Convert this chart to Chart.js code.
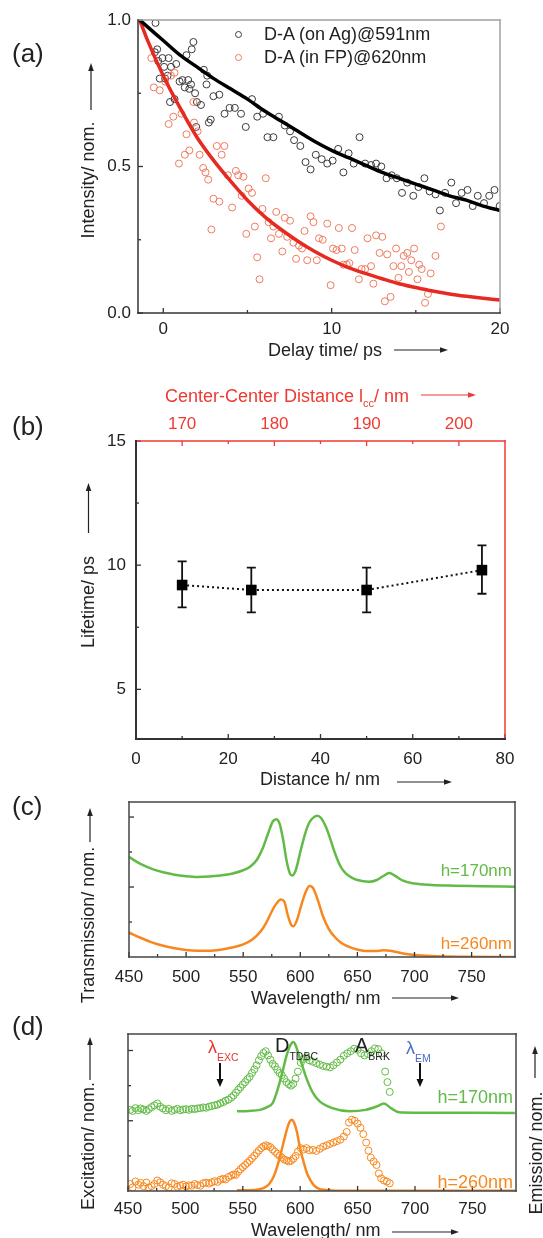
<!DOCTYPE html>
<html lang="en">
<head>
<meta charset="utf-8">
<title>Lifetime figure</title>
<script src="https://cdn.jsdelivr.net/npm/chart.js@4.4.1/dist/chart.umd.min.js"></script>
<style>
  html, body { margin: 0; padding: 0; background: #fff; }
  body { position: relative; width: 543px; height: 1238px; overflow: hidden;
         font-family: 'Liberation Sans', Arial, sans-serif; color: #222; }
  canvas { position: absolute; left: 0; }
  .lbl { position: absolute; white-space: nowrap; font-size: 18px; line-height: 18px; z-index: 2; }
  .rot { transform: translate(-50%, -50%) rotate(-90deg); }
  .panel { position: absolute; left: 12px; font-size: 26px; line-height: 26px; z-index: 2; }
  .sub { font-size: 10.5px; vertical-align: -8px; }
  .dot { position: absolute; width: 7px; height: 7px; border-radius: 50%; box-sizing: border-box;
         border: 1px solid; z-index: 2; }
  #ov { position: absolute; left: 0; top: 0; z-index: 3; }
</style>
</head>
<body>
<canvas id="chartA" width="543" height="345" style="top:0px;width:543px;height:345px"></canvas>
<canvas id="chartB" width="543" height="430" style="top:360px;width:543px;height:430px"></canvas>
<canvas id="chartC" width="543" height="205" style="top:790px;width:543px;height:205px"></canvas>
<canvas id="chartD" width="543" height="225" style="top:1000px;width:543px;height:225px"></canvas>

<!-- panel (a) -->
<div class="panel" style="top:40px">(a)</div>
<div class="lbl rot" style="left:88px;top:180px">Intensity/ nom.</div>
<div class="lbl" style="left:268px;top:341px">Delay time/ ps</div>
<div class="dot" style="left:234.5px;top:30.5px;border-color:#3a3a3a"></div>
<div class="lbl" style="left:264px;top:25px">D-A (on Ag)@591nm</div>
<div class="dot" style="left:234.5px;top:53.5px;border-color:#ef7a5e"></div>
<div class="lbl" style="left:264px;top:48px">D-A (in FP)@620nm</div>

<!-- panel (b) -->
<div class="panel" style="top:413px">(b)</div>
<div class="lbl" style="left:165px;top:387px;color:#ee3a33">Center-Center Distance l<span style="font-size:11px;vertical-align:-5px">cc</span>/ nm</div>
<div class="lbl rot" style="left:88px;top:602px">Lifetime/ ps</div>
<div class="lbl" style="left:260px;top:770px">Distance h/ nm</div>

<!-- panel (c) -->
<div class="panel" style="top:793px">(c)</div>
<div class="lbl rot" style="left:88px;top:925px">Transmission/ nom.</div>
<div class="lbl" style="left:251px;top:989px">Wavelength/ nm</div>
<div class="lbl" style="right:31px;top:862px;color:#62bb46;font-size:17px">h=170nm</div>
<div class="lbl" style="right:31px;top:935px;color:#f7881f;font-size:17px">h=260nm</div>

<!-- panel (d) -->
<div class="panel" style="top:1013px">(d)</div>
<div class="lbl rot" style="left:88px;top:1146px">Excitation/ nom.</div>
<div class="lbl rot" style="left:536px;top:1153px">Emission/ nom.</div>
<div class="lbl" style="left:251px;top:1221px">Wavelength/ nm</div>
<div class="lbl" style="right:30px;top:1088px;color:#62bb46">h=170nm</div>
<div class="lbl" style="right:30px;top:1173px;color:#f7881f">h=260nm</div>
<div class="lbl" style="left:208px;top:1038px;color:#e8352e">&lambda;<span class="sub">EXC</span></div>
<div class="lbl" style="left:275px;top:1035px;font-size:20px;line-height:20px">D<span class="sub">TDBC</span></div>
<div class="lbl" style="left:355px;top:1035px;font-size:20px;line-height:20px">A<span class="sub">BRK</span></div>
<div class="lbl" style="left:406px;top:1039px;color:#4b6cc1">&lambda;<span class="sub">EM</span></div>

<svg id="ov" width="543" height="1238"></svg>

<script>
'use strict';

// ── Panel (a): decay traces (delay time in ps, normalised intensity) ──
const blackT = [-0.46, -0.36, -0.50, -0.05, -0.30, 0.32, 0.05, 0.46, 0.26, -0.21, 0.11, 0.40, 0.67, 0.97, 0.77,
  1.38, 1.79, 1.69, 1.14, 1.48, 1.28, 1.55, 1.65, 1.89, 2.00, 2.24, 2.41, 2.57, 2.61, 1.96, 2.71, 2.82, 2.98,
  3.33, 3.64, 3.94, 4.25, 4.62, 4.90, 5.27, 5.58, 5.93, 6.19, 6.54, 6.87, 7.22, 7.53, 7.77, 8.14, 8.45, 8.75,
  9.06, 9.41, 9.74, 10.06, 10.39, 10.70, 11.01, 11.31, 11.66, 11.99, 12.34, 12.64, 12.95, 13.26, 13.57, 13.87,
  14.18, 14.49, 14.85, 15.16, 15.51, 15.82, 16.17, 16.43, 16.74, 17.11, 17.39, 17.72, 18.07, 18.38, 18.68,
  19.05, 19.36, 19.67, 19.98];
const blackV = [0.99, 0.90, 0.89, 0.87, 0.86, 0.87, 0.84, 0.84, 0.81, 0.80, 0.80, 0.72, 0.73, 0.79, 0.85,
  0.88, 0.925, 0.90, 0.795, 0.795, 0.77, 0.765, 0.78, 0.75, 0.72, 0.71, 0.83, 0.78, 0.81, 0.635, 0.65, 0.66, 0.74,
  0.745, 0.68, 0.70, 0.70, 0.68, 0.635, 0.73, 0.67, 0.68, 0.60, 0.60, 0.67, 0.64, 0.62, 0.59, 0.57, 0.515, 0.49,
  0.54, 0.525, 0.51, 0.52, 0.56, 0.48, 0.545, 0.51, 0.60, 0.51, 0.505, 0.51, 0.50, 0.46, 0.47, 0.46,
  0.41, 0.445, 0.40, 0.43, 0.46, 0.415, 0.405, 0.35, 0.41, 0.445, 0.375, 0.41, 0.42, 0.365, 0.40,
  0.375, 0.40, 0.42, 0.365];

const redT = [-0.71, -0.56, -0.21, 0.11, 0.46, 0.67, 0.32, 0.60, 0.93, 1.08, 1.28, 1.38, 1.55, 1.79, 1.83,
  2.04, 2.16, 2.37, 2.51, 2.67, 2.86, 2.98, 3.18, 3.33, 3.47, 3.63, 3.84, 4.09, 4.31, 4.45, 4.66, 4.76, 4.93,
  5.07, 5.27, 5.44, 5.58, 5.72, 5.89, 6.09, 6.26, 6.40, 6.54, 6.71, 6.87, 7.07, 7.22, 7.36, 7.53, 7.73, 7.89,
  8.06, 8.24, 8.39, 8.55, 8.75, 8.92, 9.12, 9.25, 9.47, 9.74, 9.94, 10.08, 10.29, 10.43, 10.60, 10.70, 10.90,
  11.05, 11.21, 11.37, 11.62, 11.78, 11.99, 12.13, 12.34, 12.48, 12.64, 12.85, 13.01, 13.16, 13.30, 13.50,
  13.67, 13.83, 13.97, 14.14, 14.28, 14.49, 14.59, 14.73, 14.90, 15.10, 15.20, 15.35, 15.55, 15.72, 15.88,
  16.17, 16.49];
const redV = [0.87, 0.77, 0.76, 0.79, 0.81, 0.82, 0.645, 0.67, 0.51, 0.68, 0.54, 0.61, 0.555, 0.72, 0.65,
  0.62, 0.54, 0.495, 0.48, 0.455, 0.285, 0.39, 0.57, 0.38, 0.54, 0.57, 0.47, 0.36, 0.485, 0.47, 0.40, 0.465, 0.27,
  0.425, 0.41, 0.295, 0.19, 0.115, 0.355, 0.46, 0.31, 0.255, 0.295, 0.345, 0.27, 0.21, 0.325, 0.26, 0.315, 0.24, 0.185,
  0.23, 0.22, 0.28, 0.18, 0.33, 0.31, 0.18, 0.255, 0.25, 0.305, 0.095, 0.22, 0.215, 0.29, 0.22, 0.165, 0.165,
  0.17, 0.29, 0.215, 0.115, 0.15, 0.15, 0.255, 0.16, 0.10, 0.265, 0.205, 0.26, 0.04, 0.20, 0.055,
  0.16, 0.22, 0.12, 0.16, 0.195, 0.205, 0.14, 0.18, 0.22, 0.115, 0.165, 0.15, 0.035, 0.065, 0.135,
  0.195, 0.295];

// fitted decay curves
const fitT = [-1.4, -1, 0, 1, 2, 3, 4, 5, 6, 7, 8, 9, 10, 11, 12, 13, 14, 15, 16, 17, 18, 19, 20];
const fitBlack = [1.0, 0.98, 0.93, 0.88, 0.84, 0.80, 0.765, 0.73, 0.69, 0.655, 0.62, 0.585, 0.555, 0.53,
  0.505, 0.48, 0.46, 0.44, 0.42, 0.40, 0.385, 0.365, 0.35];
const fitRed = [1.0, 0.94, 0.81, 0.70, 0.60, 0.52, 0.45, 0.385, 0.33, 0.285, 0.245, 0.21, 0.18, 0.155,
  0.135, 0.117, 0.10, 0.087, 0.075, 0.065, 0.057, 0.05, 0.044];

const aXTicks = [0, 10, 20];
const aYTicks = [0, 0.5, 1.0];

// ── Panel (b): lifetime vs. distance ──
const distH = [10, 25, 50, 75];
const lifetime = [9.2, 9.0, 9.0, 9.8];
const lifeLow = [8.3, 8.1, 8.1, 8.85];
const lifeHigh = [10.15, 9.9, 9.9, 10.8];
const bXTicks = [0, 20, 40, 60, 80];
const bYTicks = [5, 10, 15];
const bTopTicks = [170, 180, 190, 200];

// ── Panel (c): transmission spectra ──
const transWl170 = [450, 460, 470, 480, 490, 500, 510, 520, 530, 540, 550, 556, 562, 567, 572, 576, 579, 582,
  585, 588, 591, 593, 596, 600, 604, 608, 612, 615, 618, 622, 626, 630, 635, 640, 645, 650, 660, 667, 672, 678,
  683, 690, 700, 715, 730, 760, 788];
const trans170 = [2.86, 2.66, 2.52, 2.42, 2.35, 2.31, 2.29, 2.30, 2.33, 2.38, 2.48, 2.58, 2.78, 3.10, 3.55,
  3.88, 3.94, 3.80, 3.35, 2.75, 2.38, 2.33, 2.48, 3.00, 3.50, 3.85, 4.00, 4.04, 3.98, 3.75, 3.40, 3.00, 2.60,
  2.38, 2.27, 2.20, 2.15, 2.20, 2.30, 2.40, 2.32, 2.18, 2.10, 2.06, 2.04, 2.02, 2.01];
const transWl260 = [450, 460, 470, 480, 490, 500, 510, 520, 530, 540, 550, 558, 565, 570, 575, 579, 583, 586,
  589, 592, 594, 597, 601, 605, 608, 611, 615, 620, 625, 630, 636, 645, 655, 665, 673, 680, 690, 700, 715, 740, 788];
const trans260 = [0.70, 0.55, 0.42, 0.32, 0.25, 0.20, 0.18, 0.18, 0.21, 0.27, 0.36, 0.50, 0.72, 0.97, 1.30,
  1.52, 1.64, 1.58, 1.20, 0.92, 0.88, 1.05, 1.50, 1.88, 2.03, 1.98, 1.66, 1.15, 0.80, 0.58, 0.40, 0.26, 0.18,
  0.17, 0.19, 0.17, 0.10, 0.06, 0.03, 0.01, 0.0];

// ── Panel (d): excitation (circles) and emission (lines) ──
const excWl170 = [452, 454, 456.5, 459, 461, 463.5, 466, 468, 470.5, 473, 475.5, 478, 480.5, 483, 485.5, 488,
  490.5, 493, 495.5, 498, 500.5, 503, 505.5, 508, 510.5, 513, 515.5, 518, 520.5, 523, 525.5, 528, 530.5, 533,
  535, 537.5, 540, 542, 544, 546, 548, 550, 552, 554, 556, 558, 560, 562, 564, 566, 568, 570, 572, 574, 576,
  578, 580, 582, 584, 586, 588, 590, 592, 594, 596, 598, 600.5, 603, 605.5, 608, 611, 614, 617, 620, 623, 626,
  629, 632, 635, 638, 641, 644, 647, 650, 653, 656, 659, 662, 665, 668, 671, 674, 676, 678];
const exc170 = [2.31, 2.28, 2.36, 2.30, 2.35, 2.32, 2.28, 2.33, 2.39, 2.44, 2.49, 2.40, 2.35, 2.30, 2.34, 2.28,
  2.31, 2.34, 2.30, 2.32, 2.33, 2.31, 2.34, 2.33, 2.35, 2.36, 2.38, 2.37, 2.40, 2.42, 2.44, 2.46, 2.50, 2.53,
  2.57, 2.60, 2.66, 2.72, 2.80, 2.88, 2.95, 3.03, 3.10, 3.18, 3.25, 3.36, 3.46, 3.58, 3.72, 3.84, 3.93, 3.98,
  3.86, 3.74, 3.62, 3.55, 3.45, 3.36, 3.30, 3.20, 3.10, 3.04, 3.00, 3.05, 3.20, 3.40, 3.65, 3.76, 3.80, 3.72,
  3.68, 3.64, 3.60, 3.56, 3.54, 3.52, 3.58, 3.66, 3.74, 3.85, 3.92, 3.98, 4.05, 4.02, 3.92, 3.86, 3.90, 3.98,
  4.06, 4.04, 3.92, 3.40, 3.10, 2.82];
const excWl260 = [452, 454, 456.5, 459, 461, 463.5, 466, 468, 470.5, 473, 475.5, 478, 480.5, 483, 485.5, 488,
  490.5, 493, 495.5, 498, 500.5, 503, 505.5, 508, 510.5, 513, 515.5, 518, 520.5, 523, 525.5, 528, 530.5, 533,
  535, 537.5, 540, 542, 544, 546, 548, 550, 552, 554, 556, 558, 560, 562, 564, 566, 568, 570, 572, 574, 576,
  578, 580, 582, 584, 586, 588, 590, 592, 594, 596, 598, 600.5, 603, 605.5, 608, 611, 614, 617, 620, 623, 626,
  629, 632, 635, 638, 640.5, 642.5, 645, 647.5, 650, 652.5, 655, 657.5, 659.5, 661.5, 664, 666.5, 668.5, 670.5,
  673, 675.5, 678];
const exc260 = [0.20, 0.10, 0.27, 0.18, 0.23, 0.14, 0.24, 0.10, 0.14, 0.20, 0.30, 0.25, 0.18, 0.14, 0.10, 0.22,
  0.20, 0.12, 0.15, 0.18, 0.13, 0.16, 0.15, 0.20, 0.17, 0.15, 0.22, 0.24, 0.21, 0.25, 0.28, 0.26, 0.32, 0.35,
  0.33, 0.40, 0.44, 0.47, 0.46, 0.55, 0.62, 0.68, 0.74, 0.80, 0.86, 0.93, 1.00, 1.08, 1.15, 1.22, 1.27, 1.30,
  1.28, 1.25, 1.18, 1.12, 1.06, 1.00, 0.95, 0.90, 0.87, 0.84, 0.86, 0.92, 1.00, 1.12, 1.22, 1.18, 1.22, 1.16,
  1.17, 1.14, 1.20, 1.26, 1.30, 1.34, 1.38, 1.42, 1.46, 1.55, 1.68, 1.95, 2.03, 2.00, 1.92, 1.80, 1.62, 1.38,
  1.15, 0.95, 0.84, 0.74, 0.50, 0.36, 0.30, 0.27, 0.22];
const emWl170 = [545, 555, 565, 572, 576, 579, 582, 585, 588, 591, 594, 596, 599, 602, 605, 611, 617, 628, 643,
  657, 667, 673, 679, 686, 700, 787];
const em170 = [2.27, 2.28, 2.31, 2.40, 2.50, 2.75, 3.08, 3.45, 3.84, 4.12, 4.24, 4.15, 3.85, 3.55, 3.25, 2.80,
  2.55, 2.36, 2.27, 2.31, 2.41, 2.49, 2.36, 2.24, 2.23, 2.22];
const emWl260 = [545, 560, 568, 573, 577, 580, 583, 586, 589, 591, 593, 595, 597, 600, 603, 606, 609, 612, 616,
  622, 635, 787];
const em260 = [0.02, 0.03, 0.08, 0.20, 0.42, 0.70, 1.05, 1.45, 1.82, 1.98, 2.03, 1.92, 1.70, 1.20, 0.82, 0.50,
  0.30, 0.16, 0.07, 0.03, 0.01, 0.01];

const wlTicks = [450, 500, 550, 600, 650, 700, 750];
const wlMinor = [475, 525, 575, 625, 675, 725, 775];

// colours
const GREEN = '#62bb46';
const ORANGE = '#f7881f';
const RED = '#ee3a33';

Chart.defaults.font.family = "'Liberation Sans', Arial, sans-serif";
Chart.defaults.font.size = 17;
Chart.defaults.color = '#222';

function pts(xs, ys) {
  return xs.map((x, i) => ({ x: x, y: ys[i] }));
}

// linear axis with a fixed list of labelled ticks and a forced size
function axis(o) {
  return {
    type: 'linear', position: o.pos, min: o.min, max: o.max,
    grid: { display: false, drawTicks: false },
    border: { display: false },
    ticks: {
      display: !!(o.labels && o.labels.length), padding: o.pad || 0, color: o.color || '#222',
      autoSkip: false, maxRotation: 0, callback: o.fmt || (v => v)
    },
    afterBuildTicks: s => { s.ticks = (o.labels || []).map(v => ({ value: v })); },
    afterFit: s => {
      if (o.w != null) s.width = o.w;
      if (o.h != null) s.height = o.h;
    }
  };
}

// frame + inward tick marks (+ optional hook before datasets)
function framePlugin(f) {
  return {
    id: 'frame',
    beforeDatasetsDraw(chart) { if (f.before) f.before(chart); },
    afterDraw(chart) {
      const ctx = chart.ctx, a = chart.chartArea;
      ctx.save();
      (f.ticks || []).forEach(t => {
        const sc = chart.scales[t.scale];
        ctx.strokeStyle = t.color || '#333';
        ctx.lineWidth = 1.3;
        t.values.forEach(v => {
          const p = sc.getPixelForValue(v);
          ctx.beginPath();
          if (t.side === 'bottom') { ctx.moveTo(p, a.bottom); ctx.lineTo(p, a.bottom - t.len); }
          if (t.side === 'top') { ctx.moveTo(p, a.top); ctx.lineTo(p, a.top + t.len); }
          if (t.side === 'left') { ctx.moveTo(a.left, p); ctx.lineTo(a.left + t.len, p); }
          ctx.stroke();
        });
      });
      const edge = (s, x1, y1, x2, y2) => {
        if (!s) return;
        ctx.strokeStyle = s[0];
        ctx.lineWidth = s[1];
        ctx.lineCap = 'square';
        ctx.beginPath(); ctx.moveTo(x1, y1); ctx.lineTo(x2, y2); ctx.stroke();
      };
      edge(f.top, a.left, a.top, a.right, a.top);
      edge(f.right, a.right, a.top, a.right, a.bottom);
      edge(f.left, a.left, a.top, a.left, a.bottom);
      edge(f.bottom, a.left, a.bottom, a.right, a.bottom);
      ctx.restore();
    }
  };
}

function baseOptions(scales, pad) {
  return {
    responsive: false, animation: false, events: [],
    layout: { padding: pad },
    plugins: { legend: { display: false }, tooltip: { enabled: false } },
    scales: scales
  };
}

function circles(xs, ys, color, order) {
  return {
    data: pts(xs, ys), borderColor: color, backgroundColor: 'rgba(0,0,0,0)',
    pointRadius: 3.5, pointBorderWidth: 1, order: order
  };
}

function curve(xs, ys, color, width, order) {
  return {
    data: pts(xs, ys), showLine: true, borderColor: color, borderWidth: width,
    pointRadius: 0, cubicInterpolationMode: 'monotone', order: order
  };
}

// ── (a) ──
new Chart(document.getElementById('chartA'), {
  type: 'scatter',
  data: {
    datasets: [
      curve(fitT, fitBlack, '#000', 3.5, 0),
      curve(fitT, fitRed, '#e62a22', 3.5, 0),
      circles(blackT, blackV, '#3a3a3a', 2),
      circles(redT, redV, '#ef7a5e', 1)
    ]
  },
  options: baseOptions({
    x: axis({ pos: 'bottom', min: -1.5, max: 20, labels: aXTicks, pad: 6, h: 32 }),
    y: axis({ pos: 'left', min: 0, max: 1, labels: aYTicks, pad: 7, w: 138, fmt: v => v.toFixed(1) })
  }, { top: 20, right: 43, left: 0, bottom: 0 }),
  plugins: [framePlugin({
    top: ['#a0a0a0', 1.5], right: ['#a0a0a0', 1.5], left: ['#333', 1.5], bottom: ['#333', 1.5],
    ticks: [
      { scale: 'x', side: 'bottom', values: aXTicks, len: 5 },
      { scale: 'x', side: 'bottom', values: [5, 15], len: 3 },
      { scale: 'y', side: 'left', values: aYTicks, len: 5 },
      { scale: 'y', side: 'left', values: [0.25, 0.75], len: 3 }
    ]
  })]
});

// ── (b) ──
new Chart(document.getElementById('chartB'), {
  type: 'scatter',
  data: {
    datasets: [{
      data: pts(distH, lifetime), showLine: true, borderColor: '#111', borderWidth: 2,
      borderDash: [2, 3], pointStyle: 'rect', pointRadius: 7.5, pointBackgroundColor: '#000',
      pointBorderColor: '#000', pointBorderWidth: 0
    }]
  },
  options: baseOptions({
    x: axis({ pos: 'bottom', min: 0, max: 80, labels: bXTicks, pad: 10, h: 51 }),
    x2: axis({ pos: 'top', min: 165, max: 205, labels: bTopTicks, pad: 6, h: 81, color: RED }),
    y: axis({ pos: 'left', min: 3, max: 15, labels: bYTicks, pad: 10, w: 136 })
  }, { top: 0, right: 38, left: 0, bottom: 0 }),
  plugins: [framePlugin({
    top: [RED, 1.5], right: [RED, 1.5], left: ['#333', 2], bottom: ['#333', 2],
    ticks: [
      { scale: 'x', side: 'bottom', values: bXTicks, len: 5 },
      { scale: 'x', side: 'bottom', values: [10, 30, 50, 70], len: 3 },
      { scale: 'x2', side: 'top', values: bTopTicks, len: 5, color: RED },
      { scale: 'x2', side: 'top', values: [175, 185, 195], len: 3, color: RED },
      { scale: 'y', side: 'left', values: bYTicks, len: 5 },
      { scale: 'y', side: 'left', values: [7.5, 12.5], len: 3 }
    ],
    before: chart => {
      const ctx = chart.ctx, xs = chart.scales.x, ys = chart.scales.y;
      ctx.save();
      ctx.strokeStyle = '#111';
      ctx.lineWidth = 1.8;
      distH.forEach((h, i) => {
        const x = xs.getPixelForValue(h);
        const y1 = ys.getPixelForValue(lifeLow[i]), y2 = ys.getPixelForValue(lifeHigh[i]);
        ctx.beginPath();
        ctx.moveTo(x, y1); ctx.lineTo(x, y2);
        ctx.moveTo(x - 4.5, y1); ctx.lineTo(x + 4.5, y1);
        ctx.moveTo(x - 4.5, y2); ctx.lineTo(x + 4.5, y2);
        ctx.stroke();
      });
      ctx.restore();
    }
  })]
});

const specTicks = [
  { scale: 'x', side: 'bottom', values: wlTicks, len: 5 },
  { scale: 'x', side: 'bottom', values: wlMinor, len: 3 },
  { scale: 'y', side: 'left', values: [2, 4], len: 5 },
  { scale: 'y', side: 'left', values: [1, 3], len: 3 }
];
const box = ['#444', 1.5];

// ── (c) ──
new Chart(document.getElementById('chartC'), {
  type: 'scatter',
  data: {
    datasets: [
      curve(transWl170, trans170, GREEN, 2.5, 0),
      curve(transWl260, trans260, ORANGE, 2.5, 0)
    ]
  },
  options: baseOptions({
    x: axis({ pos: 'bottom', min: 450, max: 788, labels: wlTicks, pad: 10, h: 38 }),
    y: axis({ pos: 'left', min: 0, max: 4.43, w: 129 })
  }, { top: 12, right: 28, left: 0, bottom: 0 }),
  plugins: [framePlugin({ top: box, right: box, left: box, bottom: box, ticks: specTicks })]
});

// ── (d) ──
new Chart(document.getElementById('chartD'), {
  type: 'scatter',
  data: {
    datasets: [
      curve(emWl170, em170, GREEN, 2.5, 0),
      curve(emWl260, em260, ORANGE, 2.5, 0),
      circles(excWl170, exc170, GREEN, 1),
      circles(excWl260, exc260, ORANGE, 1)
    ]
  },
  options: baseOptions({
    x: axis({ pos: 'bottom', min: 450, max: 788, labels: wlTicks, pad: 8, h: 34 }),
    y: axis({ pos: 'left', min: 0, max: 4.47, w: 128 })
  }, { top: 34, right: 27, left: 0, bottom: 0 }),
  plugins: [framePlugin({ top: box, right: box, left: box, bottom: box, ticks: specTicks })]
});

// ── arrows next to the axis titles ──
const NS = 'http://www.w3.org/2000/svg';
const ov = document.getElementById('ov');
function arrow(x1, y1, x2, y2, color, w, len, half) {
  color = color || '#222'; w = w || 1.2; len = len || 8; half = half || 2.8;
  const ang = Math.atan2(y2 - y1, x2 - x1);
  const bx = x2 - len * Math.cos(ang), by = y2 - len * Math.sin(ang);
  const line = document.createElementNS(NS, 'line');
  line.setAttribute('x1', x1); line.setAttribute('y1', y1);
  line.setAttribute('x2', bx); line.setAttribute('y2', by);
  line.setAttribute('stroke', color); line.setAttribute('stroke-width', w);
  ov.appendChild(line);
  const head = document.createElementNS(NS, 'polygon');
  const px = half * Math.sin(ang), py = half * Math.cos(ang);
  head.setAttribute('points', `${x2},${y2} ${bx + px},${by - py} ${bx - px},${by + py}`);
  head.setAttribute('fill', color);
  ov.appendChild(head);
}

arrow(394, 350, 448, 350);          // delay time
arrow(91, 110, 91, 63);             // intensity
arrow(421, 395, 476, 395, RED);     // centre-centre distance
arrow(88.5, 533, 88.5, 483);        // lifetime
arrow(397, 782, 452, 782);          // distance h
arrow(90, 842, 90, 808);            // transmission
arrow(392, 998, 459, 998);          // wavelength (c)
arrow(90, 1080, 90, 1037);          // excitation
arrow(535, 1078, 535, 1046);        // emission
arrow(392, 1232, 459, 1232);        // wavelength (d)
arrow(220, 1063, 220, 1087, '#111', 2, 8, 3.5);   // lambda EXC
arrow(420, 1063, 420, 1087, '#111', 2, 8, 3.5);   // lambda EM
</script>
</body>
</html>
